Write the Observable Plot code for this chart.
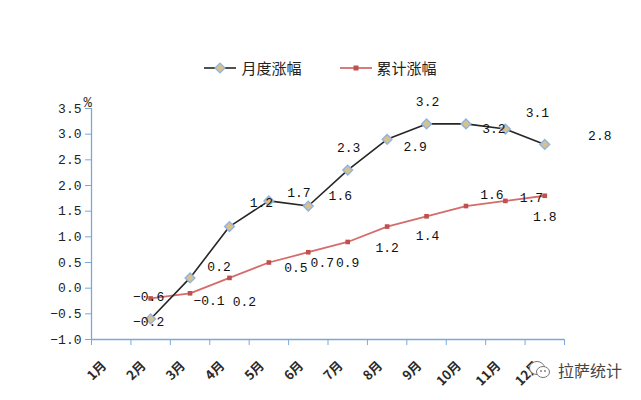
<!DOCTYPE html>
<html>
<head>
<meta charset="utf-8">
<script src="https://cdn.jsdelivr.net/npm/d3@7"></script>
<script src="https://cdn.jsdelivr.net/npm/@observablehq/plot@0.6"></script>
<style>
  html, body { margin: 0; padding: 0; background: #fff; }
  #wrap { position: relative; width: 641px; height: 400px; overflow: hidden; }
  #legend { height: 80px; display: flex; justify-content: center; align-items: flex-start; padding-top: 0; box-sizing: border-box;
            font-family: "Noto Sans CJK SC", sans-serif; font-size: 15px; color: #222; }
  #legend .item { display: flex; align-items: center; margin-top: 57px; }
  #legend .item + .item { margin-left: 38px; }
  #legend svg { margin-right: 5px; }
  #mark { position: absolute; left: 528px; top: 358px; display: flex; align-items: center;
          font-family: "Noto Sans CJK SC", sans-serif; font-size: 16px; color: #444; }
</style>
</head>
<body>
<div id="wrap">
  <div id="legend"></div>
  <div id="chart"></div>
  <div id="mark"><svg width="24" height="22" viewBox="0 0 24 22"><ellipse cx="9" cy="9" rx="7.5" ry="6.5" fill="#fff" stroke="#777" stroke-width="1"/><ellipse cx="15" cy="13" rx="6.5" ry="5.5" fill="#fff" stroke="#777" stroke-width="1"/><circle cx="13" cy="12" r="0.9" fill="#777"/><circle cx="17" cy="12" r="0.9" fill="#777"/></svg><span style="margin-left:6px">拉萨统计</span></div>
</div>
<script>
// ---- data ----
const months = ["1月","2月","3月","4月","5月","6月","7月","8月","9月","10月","11月","12月"];
const pointMonths = ["2月","3月","4月","5月","6月","7月","8月","9月","10月","11月","12月"];
const monthly = [-0.6, 0.2, 1.2, 1.7, 1.6, 2.3, 2.9, 3.2, 3.2, 3.1, 2.8];      // 月度涨幅
const cumulative = [-0.2, -0.1, 0.2, 0.5, 0.7, 0.9, 1.2, 1.4, 1.6, 1.7, 1.8]; // 累计涨幅
const yTicks = [-1.0, -0.5, 0.0, 0.5, 1.0, 1.5, 2.0, 2.5, 3.0, 3.5];
const seriesNames = ["月度涨幅", "累计涨幅"];

// ---- build ----
const idx = m => months.indexOf(m) + 1;
const monthlyData = pointMonths.map((m, i) => ({x: idx(m), v: monthly[i]}));
const cumData = pointMonths.map((m, i) => ({x: idx(m), v: cumulative[i]}));
const boundaries = d3.range(0, months.length + 1).map(i => i + 0.5);
const fmt = d3.format(".1f");

const blue = "#7ea6dc";
const blackC = "#262626";
const redC = "#d66b6b";

// label placement nudges (pixels), one per point
const monthlyNudge = [[-2,-22],[29,-11],[32,-24],[30,-8],[32,-10],[1,-22],[28,8],[1,-22],[28,5],[32,-16],[55,-9]];
const cumNudge = [[-2,23],[19,8],[15,24],[27,5],[14,11],[0,21],[0,21],[1,20],[26,-11],[26,-3],[0,21]];

const labelMarks = [];
monthlyData.forEach((d, i) => labelMarks.push(Plot.text([d], {x: "x", y: "v", text: d => fmt(d.v), dx: monthlyNudge[i][0], dy: monthlyNudge[i][1], fill: "#111"})));
cumData.forEach((d, i) => labelMarks.push(Plot.text([d], {x: "x", y: "v", text: d => fmt(d.v), dx: cumNudge[i][0], dy: cumNudge[i][1], fill: "#111"})));

const chart = Plot.plot({
  width: 641,
  height: 320,
  marginLeft: 91,
  marginRight: 77,
  marginTop: 28,
  marginBottom: 61,
  style: {fontFamily: "'Liberation Mono', monospace", fontSize: "13px", color: "#222", background: "#fff", overflow: "visible"},
  x: {domain: [0.5, 12.5]},
  y: {domain: [-1, 3.5]},
  marks: [
    Plot.axisY({ticks: yTicks, tickFormat: fmt, tickSize: 6, tickPadding: 4, stroke: blue, fill: "#222", label: null}),
    Plot.axisX({ticks: boundaries, tickFormat: () => "", tickSize: 6, stroke: blue, label: null}),
    Plot.ruleX([0.5], {stroke: blue, strokeWidth: 1.3}),
    Plot.ruleY([-1], {stroke: blue, strokeWidth: 1.3}),
    Plot.text(months, {x: (d, i) => i + 1, frameAnchor: "bottom", text: d => d, rotate: -45, textAnchor: "end", dx: -4, dy: 27,
      fontFamily: "'Noto Sans CJK SC', sans-serif", fontWeight: "bold", fontSize: 13, fill: "#2a2a2a"}),
    Plot.text(["%"], {frameAnchor: "top-left", text: d => d, dx: -8, dy: -11, fontSize: 14, fill: "#3a3028"}),
    Plot.line(cumData, {x: "x", y: "v", stroke: redC, strokeWidth: 1.8}),
    Plot.dot(cumData, {x: "x", y: "v", symbol: "square", r: 2.6, fill: "#c0504d", stroke: "none"}),
    Plot.line(monthlyData, {x: "x", y: "v", stroke: blackC, strokeWidth: 1.6}),
    Plot.dot(monthlyData, {x: "x", y: "v", symbol: "diamond2", r: 4.4, fill: "#d8c18e", stroke: "#8fb4e0", strokeWidth: 1.4}),
    ...labelMarks
  ]
});
document.getElementById("chart").appendChild(chart);

// legend
const legend = document.getElementById("legend");
const swatches = [
  `<svg width="32" height="12"><line x1="0" y1="6" x2="32" y2="6" stroke="${blackC}" stroke-width="1.6"/><rect x="12.5" y="2.5" width="7" height="7" transform="rotate(45 16 6)" fill="#d8c18e" stroke="#8fb4e0" stroke-width="1.3"/></svg>`,
  `<svg width="32" height="12"><line x1="0" y1="6" x2="32" y2="6" stroke="${redC}" stroke-width="1.8"/><rect x="13.5" y="3.5" width="5" height="5" fill="#c0504d"/></svg>`
];
seriesNames.forEach((name, i) => {
  const it = document.createElement("div");
  it.className = "item";
  it.innerHTML = swatches[i] + `<span>${name}</span>`;
  legend.appendChild(it);
});
</script>
</body>
</html>
